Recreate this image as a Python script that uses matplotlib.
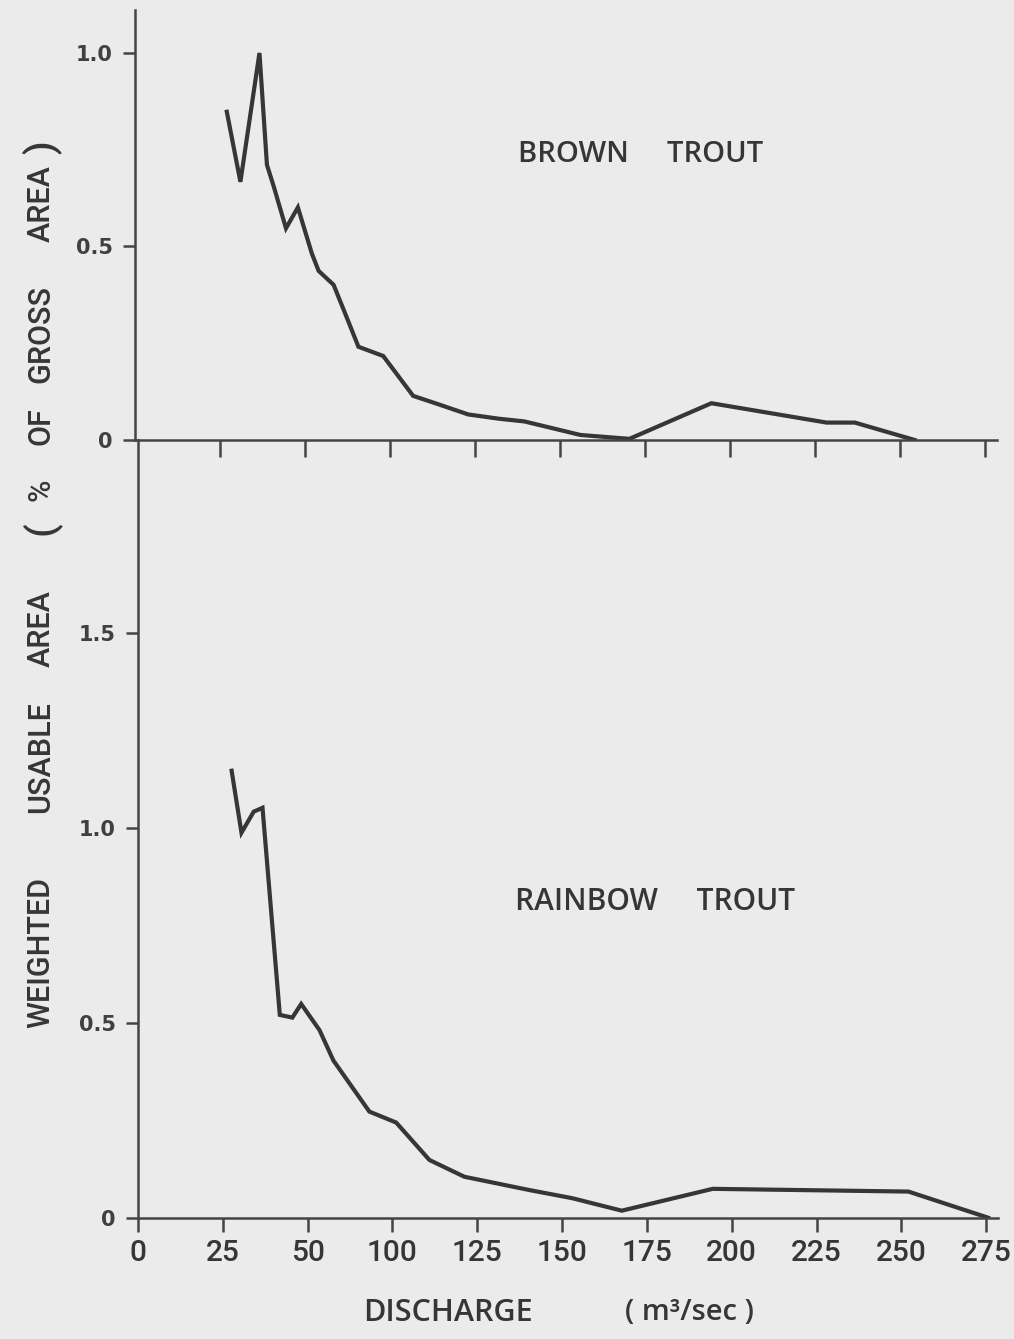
import numpy as np
import matplotlib.pyplot as plt

# printed tick labels (the original skips 75, so labels are not evenly spaced)
tick_labels = [0, 25, 50, 100, 125, 150, 175, 200, 225, 250, 275]
tick_slots = [0, 25, 50, 75, 100, 125, 150, 175, 200, 225, 250]

# discharge (m3/sec) vs weighted usable area (% of gross area)
brown_q = [27, 31, 36.6, 38.8, 40.8, 44.4, 47.9, 54, 58, 66.8, 73.6, 81.4, 96,
           106.8, 115, 123, 132, 139.5, 156, 170.4, 194.5, 228.4, 236.7, 254.3]
brown_wua = [0.848, 0.667, 1.0, 0.711, 0.655, 0.547, 0.601, 0.482, 0.437, 0.401,
             0.327, 0.241, 0.217, 0.114, 0.090, 0.066, 0.055, 0.048, 0.013, 0.003,
             0.095, 0.045, 0.045, 0.0]

rainbow_q = [27.6, 30.5, 34.1, 36.7, 41.8, 45.5, 48.1, 57, 65.2, 86.4, 101.1,
             110.9, 121.2, 140.3, 153, 167.6, 194.4, 252.1, 275.6]
rainbow_wua = [1.146, 0.987, 1.041, 1.051, 0.520, 0.513, 0.548, 0.481, 0.403,
               0.272, 0.244, 0.148, 0.105, 0.071, 0.050, 0.018, 0.074, 0.067, 0.0]

# y-axis title, split in words (bottom to top)
ylabel_words = ['WEIGHTED', 'USABLE', 'AREA', '(', '%', 'OF', 'GROSS', 'AREA', ')']
ylabel_ypix = [953, 757, 629, 528, 490, 426, 334, 204, 147]

lab_ext = [-25] + tick_labels + [300]
slot_ext = [-25] + tick_slots + [275]

def fwd(x):
    return np.interp(x, lab_ext, slot_ext)

def inv(x):
    return np.interp(x, slot_ext, lab_ext)

ink = '#363636'
axc = '#444444'
paper = '#ebebeb'
narrow = 'Roboto'
round_font = 'Open Sans'

fig = plt.figure(figsize=(10.14, 13.39), dpi=100, facecolor=paper)
W, H = 1014, 1339
ax_bot = fig.add_axes([138 / W, (H - 1217.7) / H, 860 / W, 777.7 / H])
ax_top = fig.add_axes([135 / W, (H - 440) / H, 862 / W, 430 / H])
ax_top.set_zorder(3)
ax_top.patch.set_visible(False)
ax_bot.set_facecolor(paper)

for ax in (ax_top, ax_bot):
    ax.set_xscale('function', functions=(fwd, inv))
    ax.set_xlim(0, 278.5)
    ax.set_xticks(tick_labels)
    for s in ('top', 'right'):
        ax.spines[s].set_visible(False)
    for s in ('left', 'bottom'):
        ax.spines[s].set_color(axc)
        ax.spines[s].set_linewidth(1.8)
    ax.tick_params(colors=axc, width=1.8, direction='out')
    ax.tick_params(axis='y', length=9, pad=7)

ax_top.plot(brown_q, brown_wua, color=ink, lw=3.0, solid_joinstyle='miter')
ax_top.set_ylim(0, 1.111)
ax_top.set_xticks(tick_labels[1:])
ax_top.set_yticks([0, 0.5, 1.0])
ax_top.set_yticklabels(['0', '0.5', '1.0'], fontsize=15, fontweight='bold', color='#404040')
ax_top.tick_params(axis='x', length=12, labelbottom=False)

ax_bot.plot(rainbow_q, rainbow_wua, color=ink, lw=3.0, solid_joinstyle='miter')
ax_bot.set_ylim(0, 1.994)
ax_bot.set_yticks([0, 0.5, 1.0, 1.5])
ax_bot.set_yticklabels(['0', '0.5', '1.0', '1.5'], fontsize=15, fontweight='bold', color='#404040')
ax_bot.set_xticklabels([str(v) for v in tick_labels], fontsize=21.5, family=narrow,
                       fontweight='medium', color=ink)
ax_bot.tick_params(axis='x', length=10, pad=5)

ax_top.text((518 - 135) / 862, 0.665, 'BROWN     TROUT', transform=ax_top.transAxes,
            fontsize=21, family=round_font, fontweight='semibold', color=ink, va='center')
ax_bot.text((515 - 138) / 860, (1217.7 - 902) / 777.7, 'RAINBOW     TROUT', transform=ax_bot.transAxes,
            fontsize=21.5, family=round_font, fontweight='semibold', color=ink, va='center')

fig.text(363 / W, 1 - 1313 / H, 'DISCHARGE', fontsize=22, family=round_font,
         fontweight='semibold', color=ink, va='center')
fig.text(625 / W, 1 - 1313 / H, '( m³/sec )', fontsize=21, family=round_font,
         fontweight='semibold', color=ink, va='center')

for word, yp in zip(ylabel_words, ylabel_ypix):
    size = 28 if word in '()' else 22
    fig.text(41 / W, 1 - yp / H, word, rotation=90, fontsize=size, family=narrow,
             fontweight='medium', color=ink, ha='center', va='center')

fig.savefig('out.png', dpi=100, facecolor=paper)
